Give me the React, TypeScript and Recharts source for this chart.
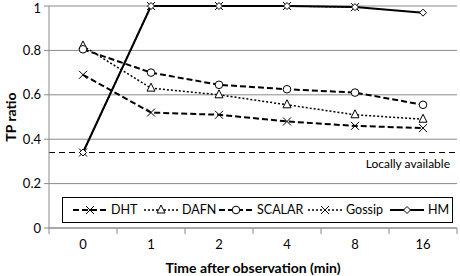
import React from 'react';
import {
  LineChart,
  Line,
  XAxis,
  YAxis,
  CartesianGrid,
  ReferenceLine,
  Legend,
} from 'recharts';

// データ
const categories = ['0', '1', '2', '4', '8', '16'];
const dhtValues = [0.69, 0.52, 0.51, 0.48, 0.46, 0.45];
const dafnValues = [0.82, 0.63, 0.6, 0.555, 0.51, 0.49];
const scalarValues = [0.805, 0.7, 0.645, 0.625, 0.61, 0.555];
const gossipValues: (number | null)[] = [0.34, 1, 1, 1, 0.995, null];
const hmValues = [0.34, 1, 1, 1, 0.995, 0.97];
const yTicks = [0, 0.2, 0.4, 0.6, 0.8, 1];
const locallyAvailable = 0.34;

const data = categories.map((time, i) => ({
  time,
  DHT: dhtValues[i],
  DAFN: dafnValues[i],
  SCALAR: scalarValues[i],
  Gossip: gossipValues[i],
  HM: hmValues[i],
}));

const FONT = 'Lato, "Open Sans", sans-serif';
const GRID = '#8a8a8a';
const PLOT_BOTTOM = 228;
const HALF_BAND = 34;

type MarkerKind = 'cross' | 'triangle' | 'circle' | 'diamond';

function Marker({ kind, cx, cy }: { kind: MarkerKind; cx: number; cy: number }) {
  const s = 4;
  if (kind === 'cross') {
    return (
      <path
        d={`M${cx - s},${cy - s}L${cx + s},${cy + s}M${cx - s},${cy + s}L${cx + s},${cy - s}`}
        stroke="#000"
        strokeWidth={1}
        fill="none"
      />
    );
  }
  if (kind === 'triangle') {
    return (
      <path
        d={`M${cx},${cy - s - 1}L${cx + s},${cy + s - 1}L${cx - s},${cy + s - 1}Z`}
        stroke="#000"
        strokeWidth={1}
        fill="#fff"
      />
    );
  }
  if (kind === 'circle') {
    return <circle cx={cx} cy={cy} r={3.8} stroke="#000" strokeWidth={1} fill="#fff" />;
  }
  return (
    <path
      d={`M${cx},${cy - 3.5}L${cx + 3.5},${cy}L${cx},${cy + 3.5}L${cx - 3.5},${cy}Z`}
      stroke="#000"
      strokeWidth={1}
      fill="#fff"
    />
  );
}

const dotOf = (kind: MarkerKind) => (props: any) => {
  const { cx, cy, index } = props;
  if (cx == null || cy == null || props.value == null) return <g key={`d-${index}`} />;
  return (
    <g key={`d-${index}`}>
      <Marker kind={kind} cx={cx} cy={cy} />
    </g>
  );
};

// 系列定義
const seriesList = [
  { key: 'DHT', kind: 'cross' as MarkerKind, dash: '6 3', width: 2 },
  { key: 'DAFN', kind: 'triangle' as MarkerKind, dash: '2 2', width: 1.5 },
  { key: 'SCALAR', kind: 'circle' as MarkerKind, dash: '6 3', width: 2 },
  { key: 'Gossip', kind: 'cross' as MarkerKind, dash: '2 2', width: 1.5 },
  { key: 'HM', kind: 'diamond' as MarkerKind, dash: undefined, width: 2 },
];

// 凡例の各項目の左位置 (枠の左端から)
const legendOffsets = [10, 81, 156, 245, 327];

function XTick(props: any) {
  const { x, payload, index } = props;
  return (
    <g>
      <line x1={x - HALF_BAND} x2={x - HALF_BAND} y1={PLOT_BOTTOM} y2={PLOT_BOTTOM + 6} stroke={GRID} />
      {index === categories.length - 1 && (
        <line x1={x + HALF_BAND} x2={x + HALF_BAND} y1={PLOT_BOTTOM} y2={PLOT_BOTTOM + 6} stroke={GRID} />
      )}
      <text x={x} y={PLOT_BOTTOM + 21} textAnchor="middle" fontSize={13} fontFamily={FONT} fill="#000">
        {payload.value}
      </text>
    </g>
  );
}

function YTitle() {
  return (
    <text
      x={16}
      y={117}
      transform="rotate(-90, 16, 117)"
      textAnchor="middle"
      fontSize={14}
      fontWeight="bold"
      fontFamily={FONT}
      fill="#000"
    >
      TP ratio
    </text>
  );
}

function LegendBox() {
  return (
    <div
      style={{
        position: 'relative',
        boxSizing: 'border-box',
        width: 391,
        height: 26,
        border: '1px solid #000',
        fontFamily: FONT,
        fontSize: 12.5,
        background: '#fff',
      }}
    >
      {seriesList.map((s, i) => (
        <div
          key={s.key}
          style={{
            position: 'absolute',
            left: legendOffsets[i],
            top: 0,
            height: 24,
            display: 'flex',
            alignItems: 'center',
            whiteSpace: 'nowrap',
          }}
        >
          <svg width={34} height={12} style={{ display: 'block' }}>
            <line x1={0} x2={34} y1={6} y2={6} stroke="#000" strokeWidth={s.width} strokeDasharray={s.dash} />
            <Marker kind={s.kind} cx={17} cy={6} />
          </svg>
          <span style={{ marginLeft: 4, lineHeight: '14px' }}>{s.key}</span>
        </div>
      ))}
    </div>
  );
}

export default function App() {
  return (
    <div style={{ position: 'absolute', left: 0, top: 0, width: 460, height: 276, background: '#fff' }}>
      <LineChart width={460} height={276} data={data} margin={{ top: 6, right: 3, bottom: 0, left: 0 }}>
        <CartesianGrid horizontal vertical={false} stroke={GRID} strokeWidth={1} />
        <XAxis
          dataKey="time"
          padding={{ left: HALF_BAND, right: HALF_BAND }}
          height={48}
          stroke={GRID}
          tickLine={false}
          tick={<XTick />}
          interval={0}
          label={{
            value: 'Time after observation (min)',
            position: 'insideBottom',
            offset: 3,
            style: { fontSize: 14, fontWeight: 'bold', fontFamily: FONT, fill: '#000' },
          }}
        />
        <YAxis
          width={49}
          domain={[0, 1]}
          ticks={yTicks}
          stroke={GRID}
          tickSize={5}
          tickMargin={3}
          tick={{ fontSize: 13, fontFamily: FONT, fill: '#000' }}
          label={<YTitle />}
        />
        <ReferenceLine
          y={locallyAvailable}
          stroke="#000"
          strokeWidth={1}
          strokeDasharray="6 4"
          label={{
            value: 'Locally available',
            position: 'insideTopRight',
            offset: 7,
            style: { fontSize: 12, fontFamily: FONT, fill: '#000' },
          }}
        />
        {seriesList.map((s) => (
          <Line
            key={s.key}
            type="linear"
            dataKey={s.key}
            stroke="#000"
            strokeWidth={s.width}
            strokeDasharray={s.dash}
            dot={dotOf(s.kind)}
            activeDot={false}
            isAnimationActive={false}
          />
        ))}
        <Legend
          verticalAlign="middle"
          layout="horizontal"
          content={<LegendBox />}
          wrapperStyle={{ left: 62, top: 197, width: 391, height: 26 }}
        />
      </LineChart>
    </div>
  );
}
